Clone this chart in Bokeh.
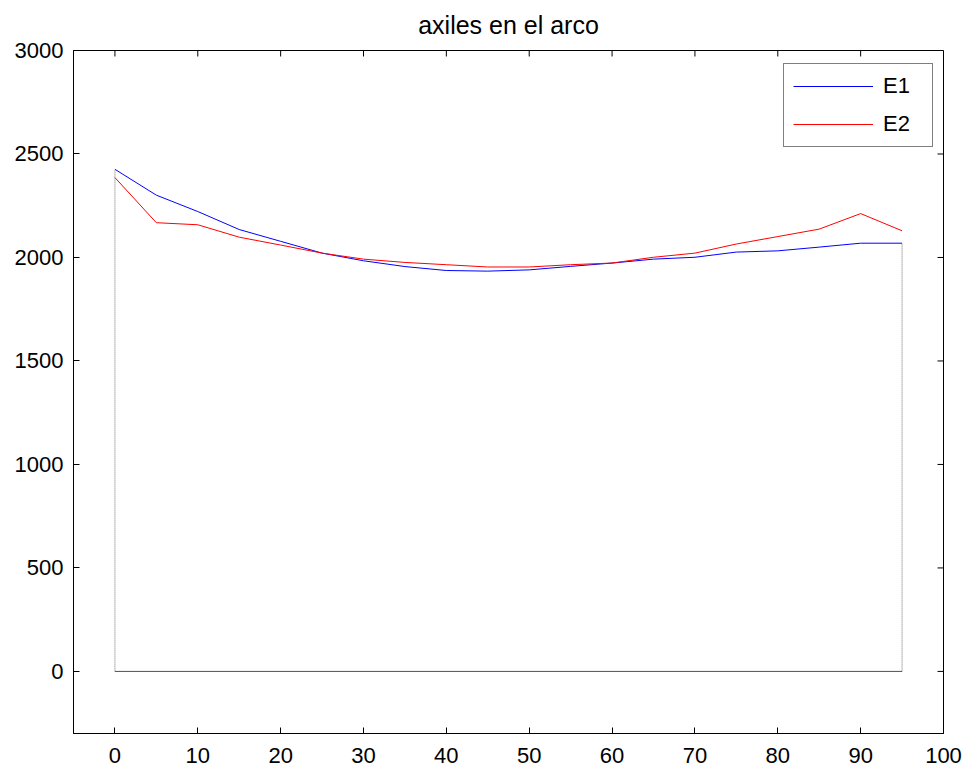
from bokeh.plotting import figure
from bokeh.models import Range1d, LinearAxis, FixedTicker, Legend, LegendItem
from bokeh.embed import file_html
from bokeh.resources import INLINE

x = [0, 5, 10, 15, 20, 25, 30, 35, 40, 45, 50, 55, 60, 65, 70, 75, 80, 85, 90, 95]
e1 = [2426, 2301, 2222, 2135, 2078, 2021, 1984, 1956, 1937, 1934, 1940, 1957, 1973, 1992, 2001, 2026, 2032, 2050, 2069, 2069]
e2 = [2386, 2168, 2158, 2098, 2060, 2021, 1992, 1976, 1965, 1954, 1954, 1965, 1973, 2001, 2021, 2065, 2101, 2137, 2212, 2129]
x_ticks = [0, 10, 20, 30, 40, 50, 60, 70, 80, 90, 100]
y_ticks = [0, 500, 1000, 1500, 2000, 2500, 3000]
x_lim = (-5, 100)
y_lim = (-300, 3000)
title_text = "axiles en el arco"
FONT = "Liberation Sans"

W, H = 971, 773
ML, MR, MT, MB = 73, 28, 49, 40
TICK = 6

p = figure(width=W, height=H, output_backend="svg", toolbar_location=None,
           x_range=Range1d(*x_lim), y_range=Range1d(*y_lim),
           min_border_left=ML, min_border_right=MR, min_border_top=MT, min_border_bottom=MB,
           title=title_text, x_axis_location=None, y_axis_location=None)
p.title.align = "center"
p.title.vertical_align = "top"
p.title.text_font = FONT
p.title.text_font_size = "25px"
p.title.text_font_style = "normal"
p.title.text_color = "#000000"
p.title.standoff = 20
p.grid.visible = False
p.outline_line_color = "#000000"
p.outline_line_width = 1
p.background_fill_color = "white"
p.border_fill_color = "white"

def make_axis(ticks, standoff):
    ax = LinearAxis(ticker=FixedTicker(ticks=ticks))
    ax.major_tick_in = TICK
    ax.major_tick_out = 0
    ax.minor_tick_line_color = None
    ax.axis_line_color = "#000000"
    ax.major_tick_line_color = "#000000"
    ax.major_label_text_font = FONT
    ax.major_label_text_color = "#000000"
    ax.major_label_text_font_size = "22px"
    ax.major_label_standoff = standoff
    return ax

p.add_layout(make_axis(x_ticks, 14), "below")
p.add_layout(make_axis(y_ticks, 10), "left")

# inward ticks on the top and right edges, length converted from pixels to data units
dx = TICK * (x_lim[1] - x_lim[0]) / (W - ML - MR)
dy = TICK * (y_lim[1] - y_lim[0]) / (H - MT - MB)
p.segment(x0=x_ticks, x1=x_ticks, y0=[y_lim[1]] * len(x_ticks), y1=[y_lim[1] - dy] * len(x_ticks),
          line_color="#000000", line_width=1)
p.segment(x0=[x_lim[1]] * len(y_ticks), x1=[x_lim[1] - dx] * len(y_ticks), y0=y_ticks, y1=y_ticks,
          line_color="#000000", line_width=1)

# structure outline
p.segment(x0=[x[0], x[-1]], y0=[0, 0], x1=[x[0], x[-1]], y1=[e1[0], e1[-1]],
          line_color="#707070", line_width=1, line_dash="1 1")
p.line(x=[x[0], x[-1]], y=[0, 0], line_color="#505050", line_width=1)

r1 = p.line(x=x, y=e1, line_color="#0000ff", line_width=1)
r2 = p.line(x=x, y=e2, line_color="#ff0000", line_width=1)

legend = Legend(items=[LegendItem(label="E1", renderers=[r1]), LegendItem(label="E2", renderers=[r2])],
                location=(710, 586))
legend.glyph_width = 80
legend.glyph_height = 20
legend.label_height = 20
legend.label_width = 40
legend.label_standoff = 10
legend.spacing = 12
legend.padding = 9
legend.margin = 0
legend.label_text_font = FONT
legend.label_text_font_size = "22px"
legend.label_text_color = "#000000"
legend.border_line_color = "#000000"
legend.border_line_width = 1
legend.background_fill_alpha = 1
p.add_layout(legend, "center")

open("out.html", "w").write(file_html(p, INLINE))
